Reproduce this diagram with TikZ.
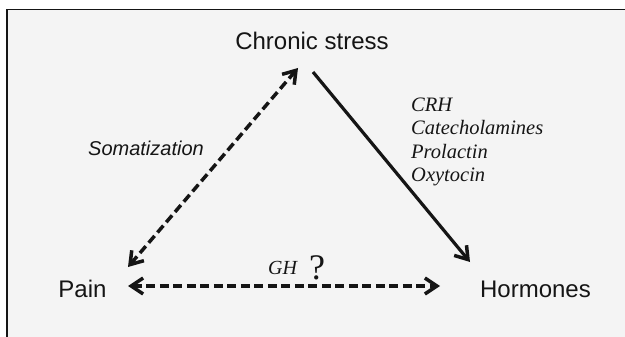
\documentclass[tikz,border=0pt]{standalone}
\usepackage{fontspec}
\setmainfont{Liberation Serif}
\setsansfont{Liberation Sans}
\usetikzlibrary{arrows.meta}
\definecolor{bg}{HTML}{F4F4F4}
\definecolor{ink}{HTML}{151515}
\tikzset{
  maintext/.style={font=\sffamily\fontsize{24}{24}\selectfont, inner sep=0pt, text=ink},
  somtext/.style={font=\sffamily\itshape\fontsize{20}{20}\selectfont, inner sep=0pt, text=ink},
  hormtext/.style={font=\rmfamily\itshape\fontsize{20.5}{23.2}\selectfont, inner sep=0pt, text=ink, align=left},
  ghtext/.style={font=\rmfamily\itshape\fontsize{20}{20}\selectfont, inner sep=0pt, text=ink},
  qtext/.style={font=\rmfamily\fontsize{36}{36}\selectfont, inner sep=0pt, text=ink},
  barb/.tip={Straight Barb[length=12pt, width=16pt, line width=3.5pt]},
  dasharrow/.style={draw=ink, line width=3.5pt, dash pattern=on 9pt off 4.5pt, {barb}-{barb}},
  solidarrow/.style={draw=ink, line width=3.2pt, -{barb}}
}
\begin{document}
\begin{tikzpicture}[x=1pt, y=-1pt]
\useasboundingbox (0,0) rectangle (625,337);
\fill[white] (0,0) rectangle (625,337);
\fill[bg] (7,9.5) rectangle (625,337);
\draw[line width=1.4pt, draw=ink] (7,337) -- (7,9.5) -- (625,9.5);

\node[maintext, anchor=base] (stress) at (312,50) {Chronic stress};
\node[maintext, anchor=base] (pain) at (82.5,297) {Pain};
\node[maintext, anchor=base] (horm) at (535.5,297) {Hormones};
\node[somtext, anchor=base] (som) at (146,155.6) {Somatization};
\node[hormtext, anchor=base west] (hlist) at (411,181.3) {CRH\\Catecholamines\\Prolactin\\Oxytocin};
\node[ghtext, anchor=base west] (gh) at (268,274) {GH};
\node[qtext, anchor=base west] (q) at (309,279) {?};

\coordinate (sa) at (298,68);
\coordinate (sb) at (128,267);
\coordinate (ha) at (128,286);
\coordinate (hb) at (440,286);
\coordinate (ta) at (313,72);
\coordinate (tb) at (470,262);

\draw[dasharrow] (sb) -- (sa);
\draw[dasharrow] (ha) -- (hb);
\draw[solidarrow] (ta) -- (tb);
\end{tikzpicture}
\end{document}
